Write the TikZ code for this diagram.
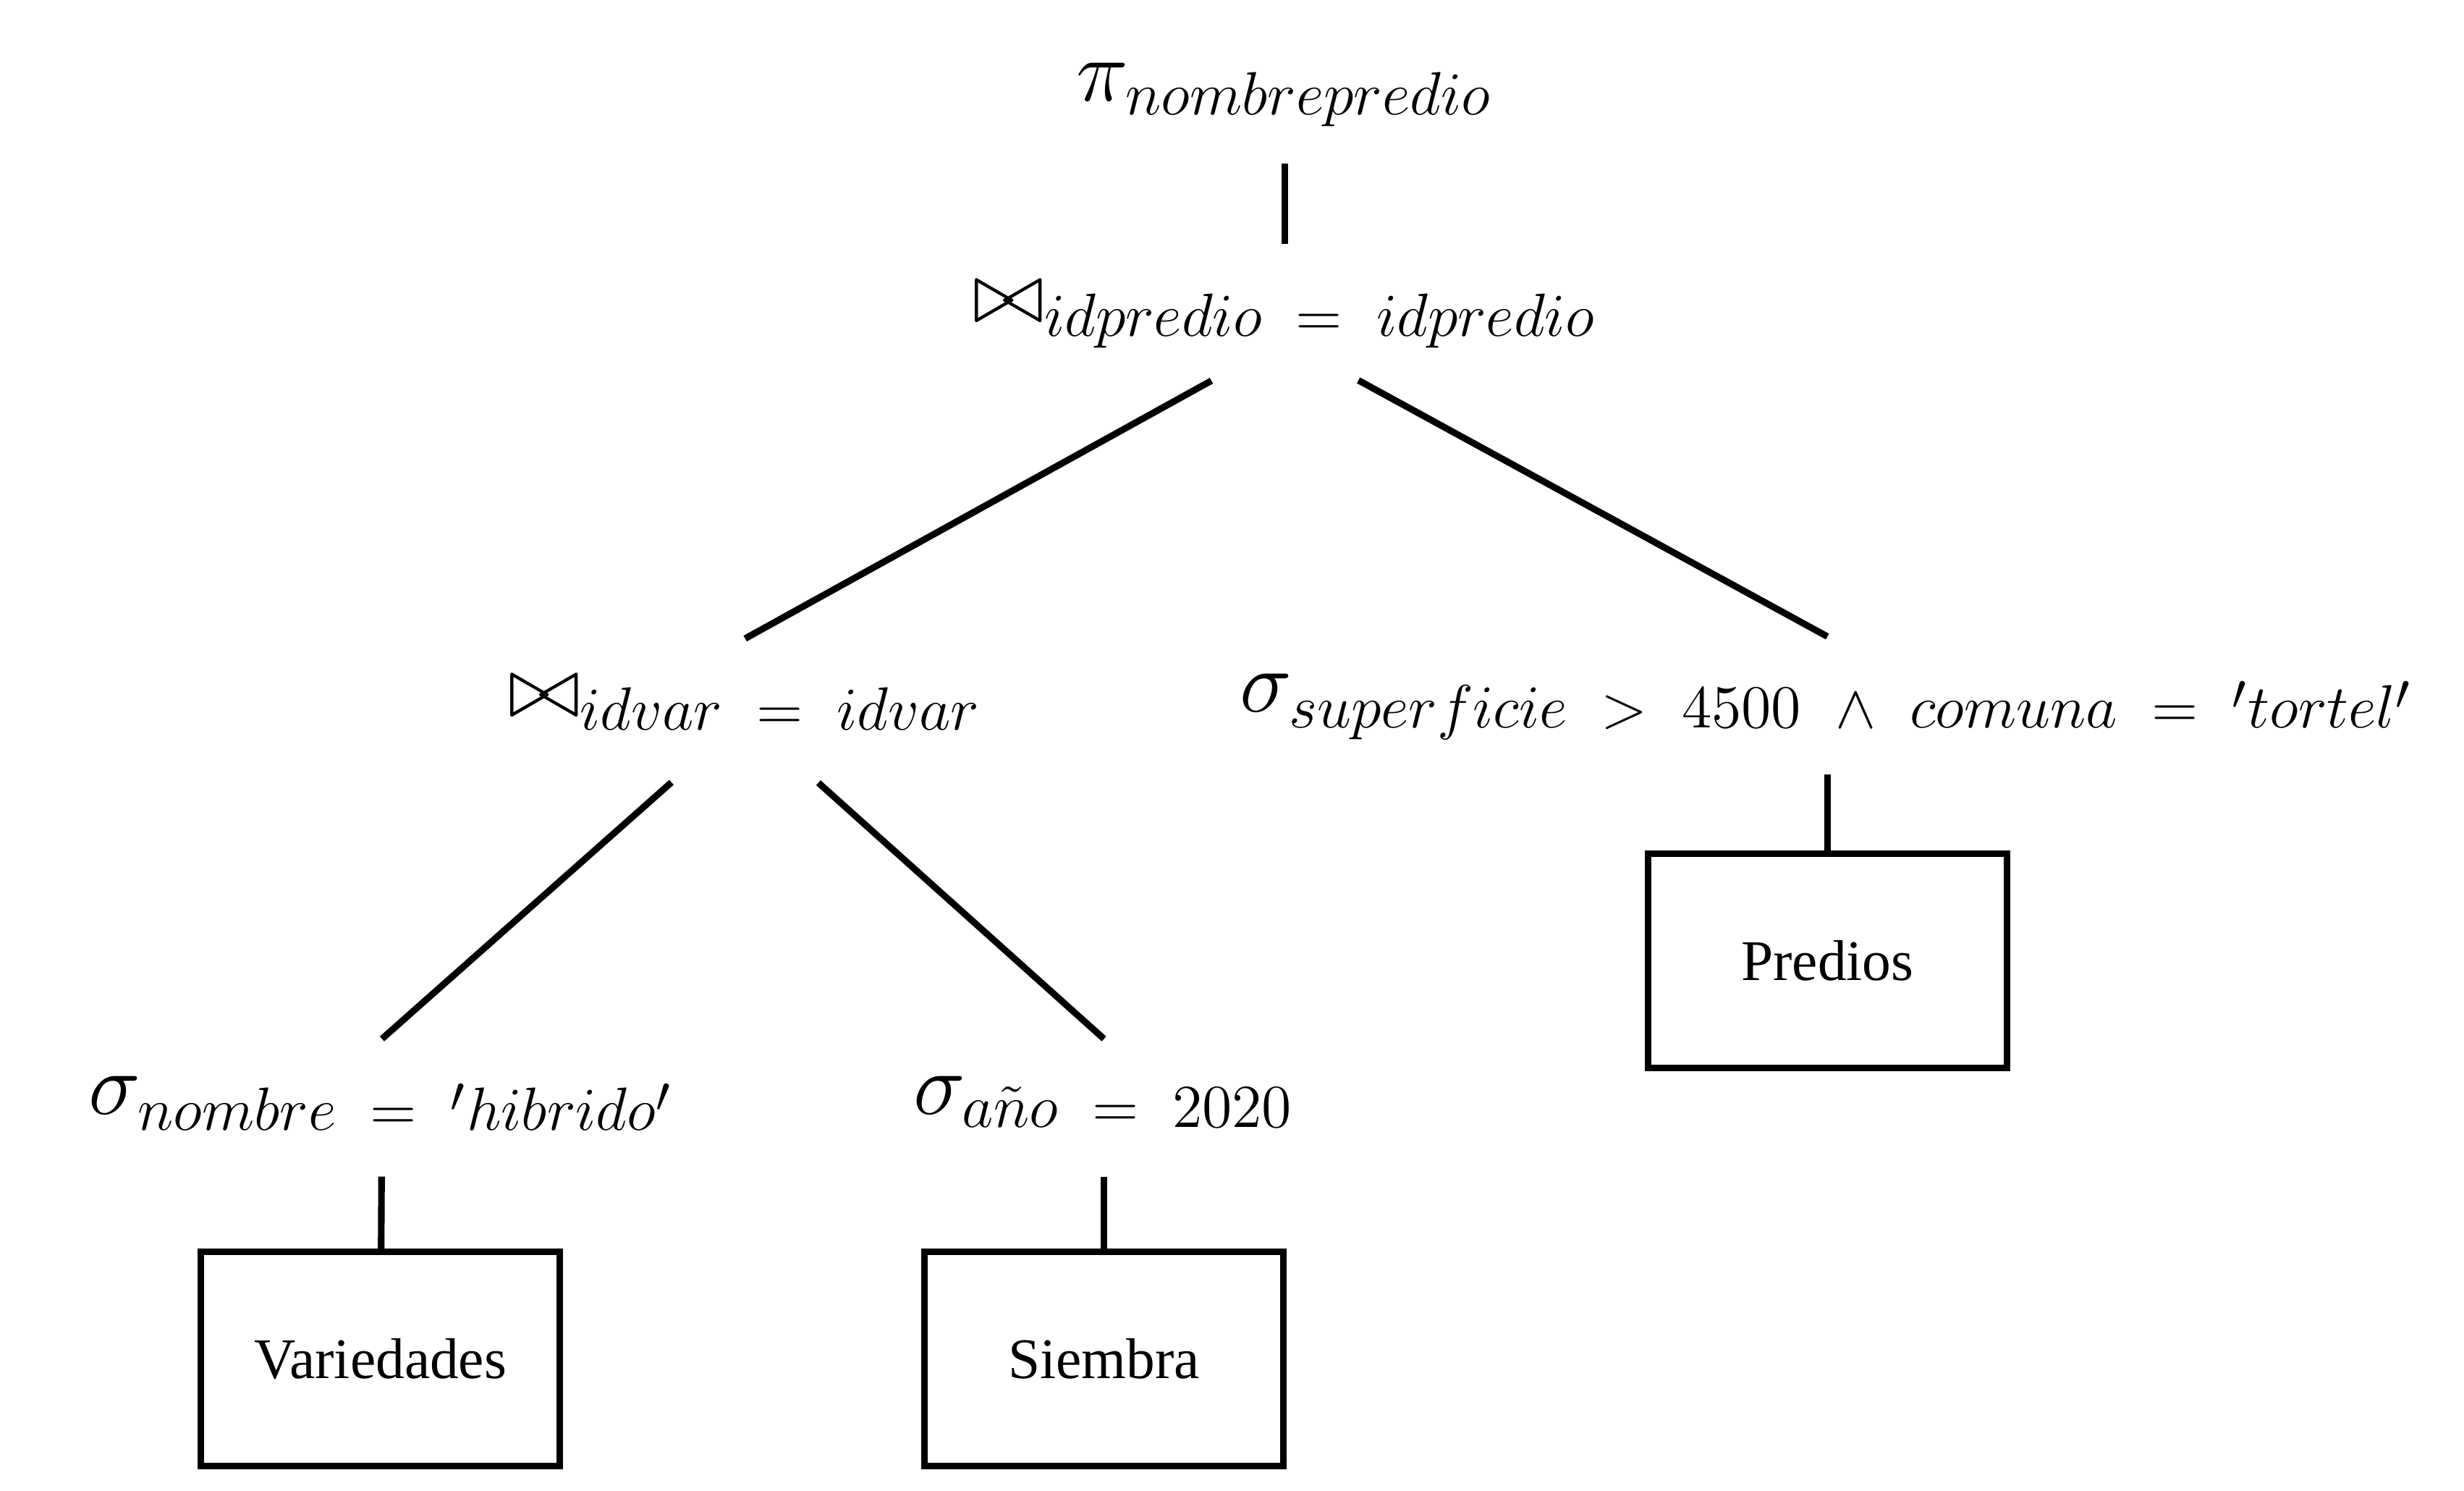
\documentclass[tikz,border=0pt]{standalone}
\usepackage[no-math]{fontspec}
\setmainfont{Liberation Serif}
\usepackage{amsmath, amssymb}
\usetikzlibrary{positioning}

\newcommand{\rsp}{\mskip 10mu}

\begin{document}
\begin{tikzpicture}[
  op/.style={inner sep=0pt, outer sep=0.26cm, text depth=0.17cm, font=\LARGE, anchor=base},
  rel/.style={draw, line width=1.3pt, minimum width=2.48cm, minimum height=1.48cm, font=\fontsize{11.3}{13}\selectfont},
  branch/.style={line width=1.3pt}
]
  \useasboundingbox (0,0) rectangle (17.03,-10.30);

  % Projection
  \node[op] (proj) at (8.88, -0.70) {$\pi_{nombrepredio}$};

  % Joins
  \node[op] (join1) at (8.88, -2.23) {${\bowtie}_{idpredio\rsp=\rsp idpredio}$};
  \node[op] (join2) at (5.15, -4.955) {${\bowtie}_{idvar\rsp=\rsp idvar}$};

  % Selections
  \node[op] (sel3) at (12.63, -4.92) {$\sigma_{superficie\rsp>\rsp 4500\rsp\land\rsp comuna\rsp=\rsp{}'tortel'}$};
  \node[op] (sel1) at (2.64, -7.70) {$\sigma_{nombre\rsp=\rsp{}'hibrido'}$};
  \node[op] (sel2) at (7.63, -7.70) {$\sigma_{a\tilde{n}o\rsp=\rsp 2020}$};

  % Relations
  \node[rel] (predios) at (12.63, -6.64) {Predios};
  \node[rel] (varied) at (2.63, -9.39) {Variedades};
  \node[rel] (siembra) at (7.63, -9.39) {Siembra};

  \draw[branch] (proj) -- (join1);
  \draw[branch, shorten <=0.58cm] ([yshift=-0.12cm]join1.base) -- (join2.north);
  \draw[branch, shorten <=0.58cm] ([yshift=-0.12cm]join1.base) -- (sel3.north);
  \draw[branch, shorten <=0.68cm] (join2.base) -- (sel1.north);
  \draw[branch, shorten <=0.68cm] (join2.base) -- (sel2.north);
  \draw[branch] (sel3) -- (predios);
  \draw[branch] (sel1) -- (varied);
  \draw[branch] (sel2) -- (siembra);
\end{tikzpicture}
\end{document}
